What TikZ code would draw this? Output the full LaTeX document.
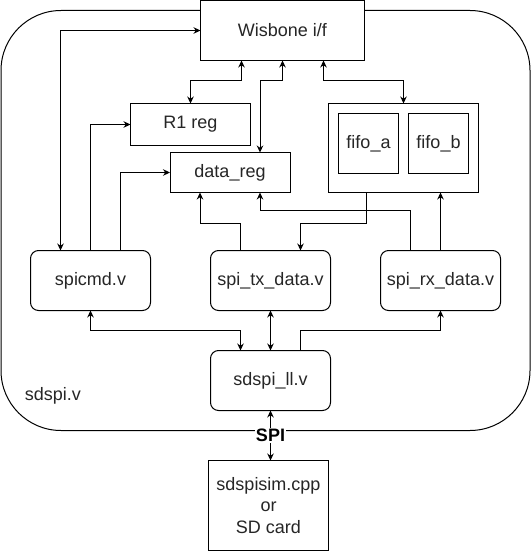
\documentclass[tikz,border=0pt]{standalone}
\usepackage{fontspec}
\setmainfont{Liberation Sans}
\usepackage{tikz}
\usetikzlibrary{positioning, arrows.meta}
\tikzset{
      blk/.style={draw,minimum width=120pt,minimum height=60pt,inner sep=0pt,outer sep=0pt,text=black!85},
      vfile/.style={blk,rounded corners=8pt},
      link/.style={line width=1pt,-{Stealth[length=7pt,width=6.5pt]}},
      dlink/.style={line width=1pt,{Stealth[length=7pt,width=6.5pt]}-{Stealth[length=7pt,width=6.5pt]}}
    }

\begin{document}
\begin{tikzpicture}[x=1pt,y=-1pt,line width=1pt,font=\fontsize{18}{21.5}\selectfont]
\useasboundingbox (0,0) rectangle (531,551);
\fill[white] (0,0) rectangle (531,551);
% sdspi.v wrapper
\draw[rounded corners=60pt] (1,10.5) rectangle (530,430.5);
\node[anchor=west,text=black!85] (top) at (21,395.5) {sdspi.v};

\node[blk,fill=white,minimum width=164pt] (wb) at (282.5,30.5) {Wisbone i/f};
\node[blk,minimum height=42pt] (r1) at (190.5,124.5) {R1 reg};
\node[blk,minimum height=40pt] (dreg) at (230,172.5) {data\_reg};
\node[blk,minimum width=150pt,minimum height=89pt] (fifo) at (403.5,148) {};
\node[blk,minimum width=60pt] (fa) at (368.5,143.5) {fifo\_a};
\node[blk,minimum width=60pt] (fb) at (438.5,143.5) {fifo\_b};
\foreach \n/\x/\t in {cmd/90.5/spicmd.v, tx/270.5/spi\_tx\_data.v, rx/440.5/spi\_rx\_data.v}
  \node[vfile] (\n) at (\x,280.5) {\t};
\node[vfile] (ll) at (270.5,380.5) {sdspi\_ll.v};
\node[blk,minimum height=90pt,align=center] (sim) at (268.5,505.5)
  {sdspisim.cpp\\or\\SD card};

% bus side
\draw[dlink] (wb.west) -| ([xshift=-30pt]cmd.north);
\draw[dlink] ([xshift=-41pt]wb.south) -- ++(0,20) -| (r1.north);
\draw[dlink] (wb.south) -- ++(0,20) -| ([xshift=30pt]dreg.north);
\draw[dlink] ([xshift=41pt]wb.south) -- ++(0,20) -| (fifo.north);

% registers and fifos
\draw[link] (cmd.north) |- (r1.west);
\draw[link] ([xshift=30pt]cmd.north) |- (dreg.west);
\draw[link] ([xshift=-30pt]tx.north) -- ++(0,-27) -| ([xshift=-30pt]dreg.south);
\draw[link] ([xshift=-30pt]rx.north) -- ++(0,-40) -| ([xshift=30pt]dreg.south);
\draw[link] ([xshift=-37pt]fifo.south) -- ++(0,31) -| ([xshift=30pt]tx.north);
\draw[link] (rx.north) -- ([xshift=37pt]fifo.south);

% low level
\draw[dlink] (cmd.south) -- ++(0,20) -| ([xshift=-30pt]ll.north);
\draw[dlink] (tx.south) -- (ll.north);
\draw[link] ([xshift=30pt]ll.north) -- ++(0,-20) -| (rx.south);
\draw[dlink] (ll.south) -- (ll.south |- sim.north)
  node[midway,fill=white,inner sep=1pt,font=\fontsize{18}{18}\selectfont\bfseries] (spi) {SPI};
\end{tikzpicture}
\end{document}
